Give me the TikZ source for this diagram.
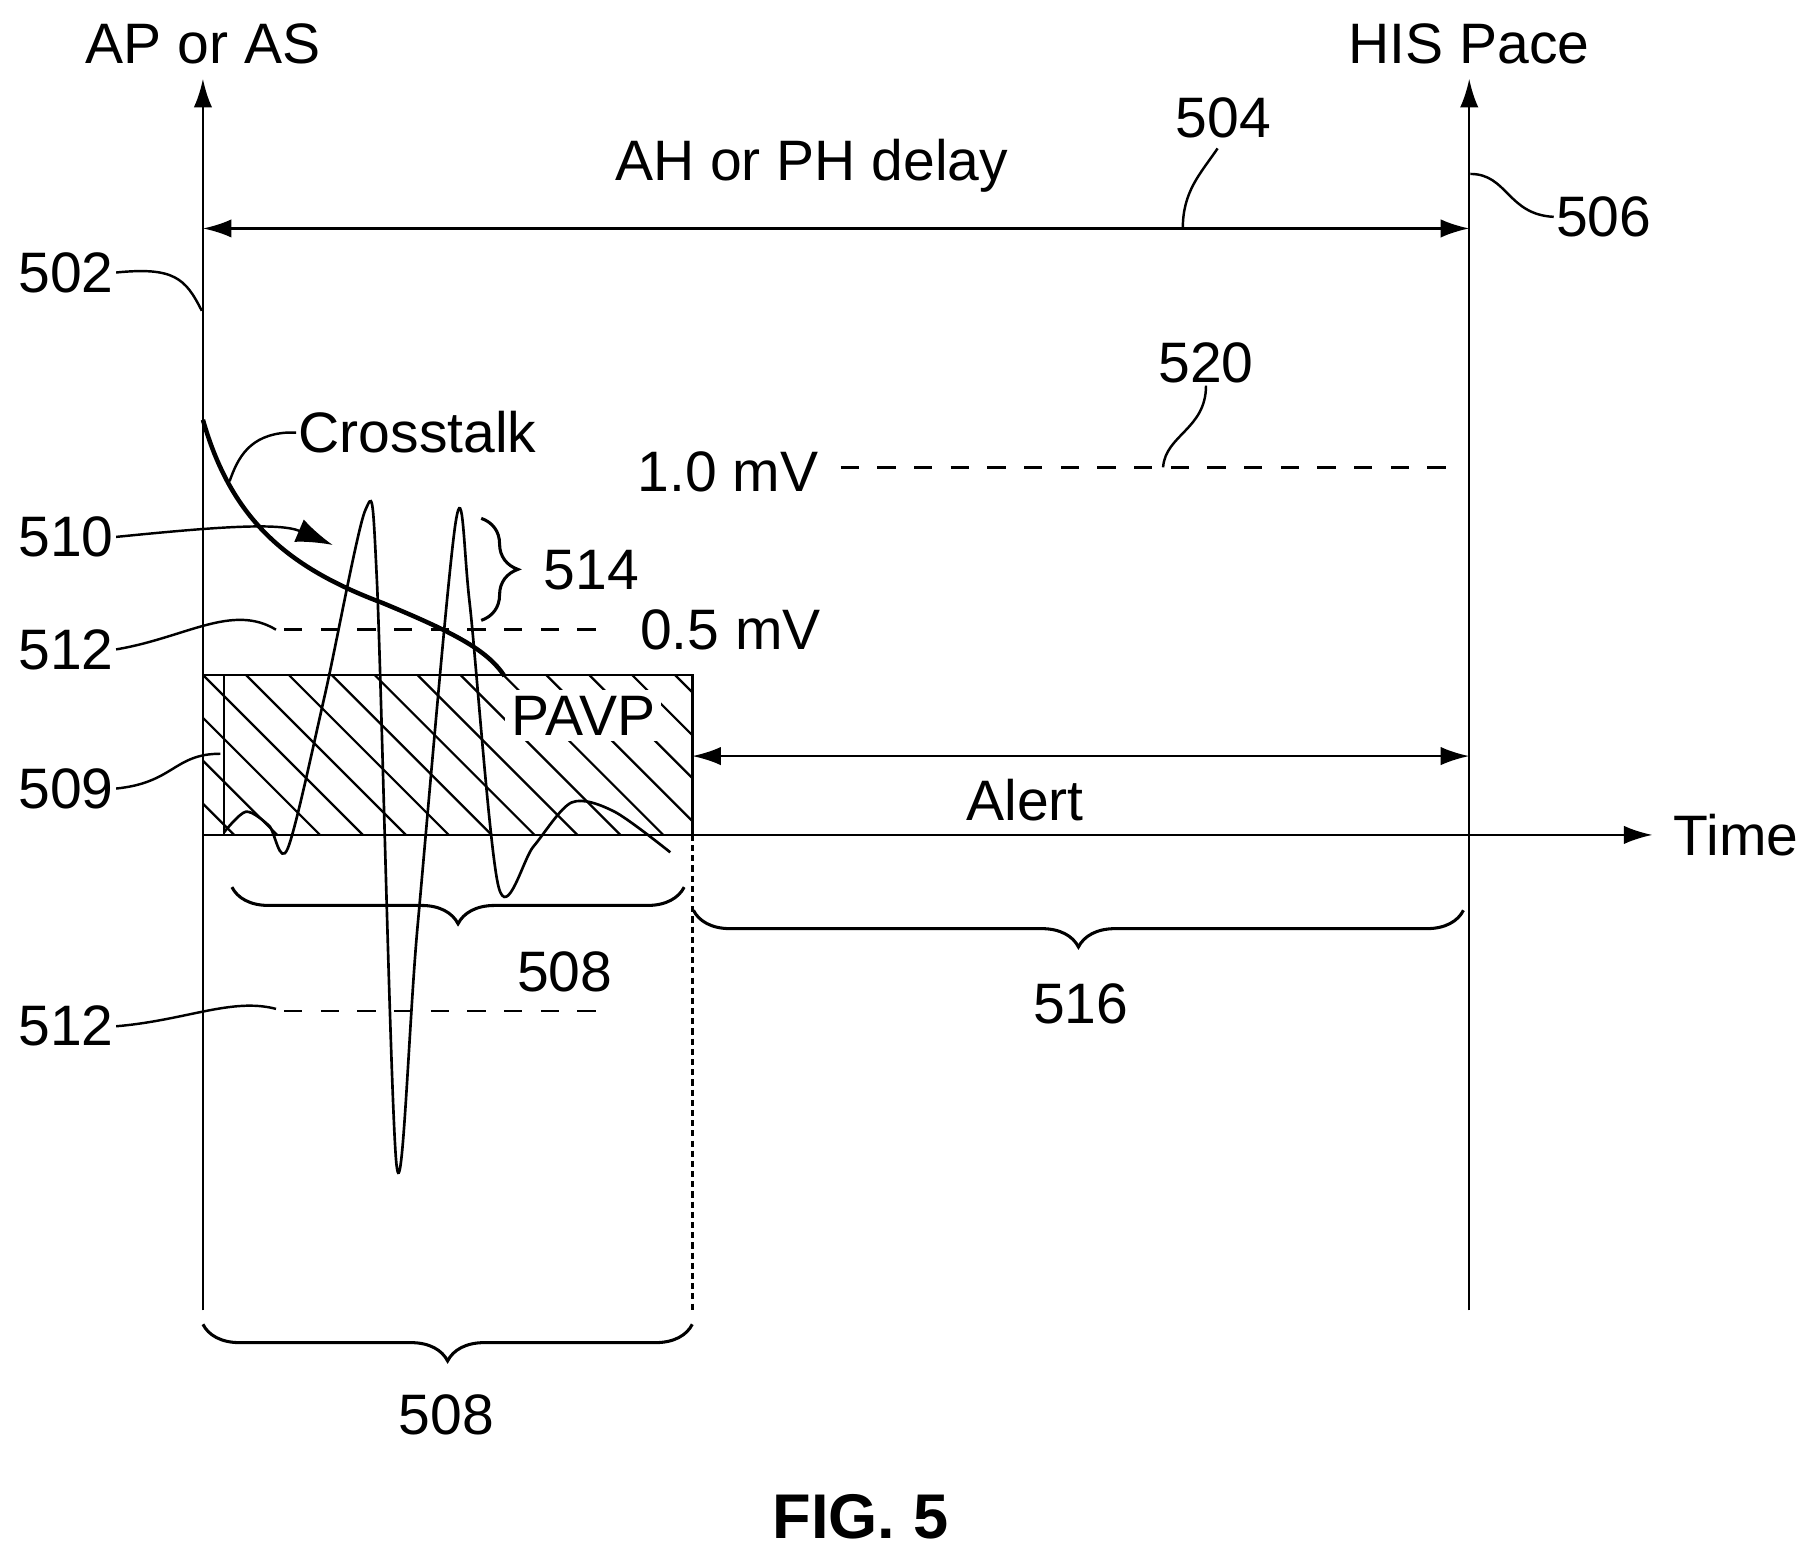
\documentclass[tikz,border=0pt]{standalone}
\usepackage{fontspec}
\setmainfont{Liberation Sans}
\usetikzlibrary{arrows.meta,decorations.pathreplacing}
\begin{document}
\begin{tikzpicture}[x=0.02cm,y=-0.02cm,
  lab/.style={font=\fontsize{28}{31}\selectfont,inner sep=1pt},
  ax/.style={line width=1.2pt,-{Latex[length=14pt,width=9pt]}},
  dbl/.style={line width=1.2pt,{Latex[length=14pt,width=9pt]}-{Latex[length=14pt,width=9pt]}},
  lead/.style={line width=1.2pt},
  dsh/.style={line width=1.2pt,dash pattern=on 9pt off 9pt},
  brc/.style={line width=1.5pt,decorate,decoration={brace,amplitude=18pt}}]
\useasboundingbox (0,0) rectangle (1560,1339);
% axes
\coordinate (l0) at (175,1130); \coordinate (l1) at (175,68);
\coordinate (r0) at (1267,1130); \coordinate (r1) at (1267,68);
\coordinate (t0) at (175,720); \coordinate (t1) at (1425,720);
\draw[ax] (l0) -- (l1);
\draw[ax] (r0) -- (r1);
\draw[ax] (t0) -- (t1);
\node[lab] (apas) at (175,38) {AP or AS};
\node[lab] (his) at (1267,38) {HIS Pace};
\node[lab] (time) at (1497,720) {Time};
% AH delay
\coordinate (d0) at (175,197); \coordinate (d1) at (1267,197);
\draw[dbl] (d0) -- (d1);
\node[lab] (ah) at (700,143) {AH or PH delay};
\node[lab] (n504) at (1055,102) {504};
\draw[lead] (1050,128) .. controls (1035,150) and (1020,165) .. (1020,197);
\node[lab] (n506) at (1383,187) {506};
\draw[lead] (n506.west) .. controls (1300,185) and (1300,150) .. (1268,150);
\node[lab] (n502) at (57,235) {502};
\draw[lead] (n502.east) .. controls (150,230) and (160,240) .. (174,268);
% 1.0 mV
\node[lab] (n520) at (1040,313) {520};
\node[lab] (mv1) at (628,407) {1.0 mV};
\coordinate (m1a) at (725,403); \coordinate (m1b) at (1250,403);
\draw[dsh] (m1a) -- (m1b);
\draw[lead] (n520.south) .. controls (1040,370) and (1005,375) .. (1003,403);
% PAVP box
\coordinate (b0) at (175,582); \coordinate (b1) at (597,720);
\begin{scope}
\clip (b0) rectangle (b1);
\foreach \i in {-10,...,16} {\draw[line width=1.1pt] (175+\i*37,582) -- ++(150,150);}
\end{scope}
\draw[line width=1.2pt] (b0) rectangle (b1);
\draw[line width=1.2pt] (193,582) -- (193,720);
\node[lab,fill=white,inner sep=3pt] (pavp) at (503,617) {PAVP};
\node[lab] (n509) at (57,680) {509};
\draw[lead] (n509.east) .. controls (150,675) and (150,650) .. (190,650);
% Alert
\coordinate (a0) at (597,652); \coordinate (a1) at (1267,652);
\draw[dbl] (a0) -- (a1);
\node[lab] (alert) at (884,690) {Alert};
\draw[line width=1.2pt,dash pattern=on 3pt off 2pt] (597,720) -- (597,1130);
% 0.5 mV
\coordinate (m5a) at (245,543); \coordinate (m5b) at (528,543);
\draw[dsh] (m5a) -- (m5b);
\node[lab] (mv5) at (630,543) {0.5 mV};
\node[lab] (n512a) at (57,560) {512};
\draw[lead] (n512a.east) .. controls (160,550) and (200,520) .. (238,543);
\coordinate (m5c) at (245,872); \coordinate (m5d) at (528,872);
\draw[dsh] (m5c) -- (m5d);
\node[lab] (n512b) at (57,885) {512};
\draw[lead] (n512b.east) .. controls (160,880) and (200,860) .. (238,870);
% waveform
\draw[line width=1.3pt] plot[smooth,tension=0.5] coordinates {(193,718) (212,700) (232,712) (248,732) (280,600) (315,440) (325,500) (342,1005) (360,800) (393,450) (405,520) (430,765) (460,730) (493,692) (530,700) (578,735)};
% crosstalk
\draw[line width=2.2pt] (175,362) .. controls (200,450) and (250,490) .. (330,520) .. controls (390,545) and (420,560) .. (435,583);
\node[lab] (ct) at (360,373) {Crosstalk};
\draw[lead] (ct.west) -- (248,373) .. controls (215,375) and (205,395) .. (198,415);
\node[lab] (n510) at (57,463) {510};
\draw[lead,-{Latex[length=18pt,width=12pt]}] (n510.east) .. controls (180,455) and (240,450) .. (287,470);
% 514
\draw[brc] (415,447) -- (415,535);
\node[lab] (n514) at (510,492) {514};
% braces
\draw[brc] (590,765) -- (200,765);
\node[lab] (n508a) at (487,838) {508};
\draw[brc] (1262,785) -- (598,785);
\node[lab] (n516) at (932,866) {516};
\draw[brc] (597,1142) -- (175,1142);
\node[lab] (n508b) at (385,1220) {508};
\node[font=\fontsize{31}{34}\selectfont\bfseries] (fig) at (742,1308) {FIG. 5};
\end{tikzpicture}
\end{document}
